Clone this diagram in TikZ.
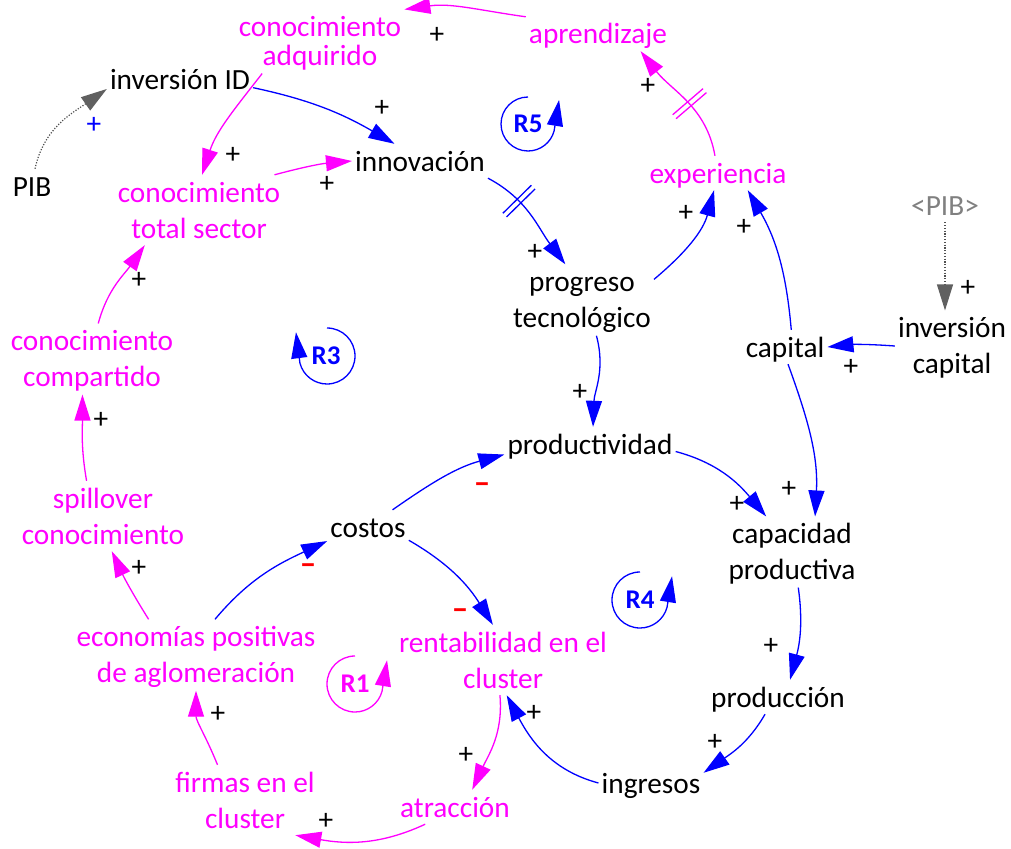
\documentclass[tikz,border=0pt]{standalone}
\usepackage{fontspec}
\setmainfont{Carlito}
\usetikzlibrary{arrows.meta,decorations.markings}
\definecolor{cmag}{RGB}{255,0,255}
\definecolor{cblue}{RGB}{0,0,255}
\definecolor{cred}{RGB}{255,0,0}
\definecolor{cdot}{RGB}{80,80,80}
\definecolor{chead}{RGB}{96,96,96}
\definecolor{cshadow}{RGB}{128,128,128}
% strut giving every text line the same height and depth
\newcommand{\lnstrut}{\rule[-4pt]{0pt}{28pt}}
\begin{document}
\begin{tikzpicture}[x=1pt,y=1pt,
  every node/.style={inner sep=3pt,font=\fontsize{29.3}{36}\selectfont},
  var/.style={align=center},
  tight/.style={font=\fontsize{29.3}{29}\selectfont},
  one/.style={text height=24pt,text depth=4pt},
  mg/.style={text=cmag},
  sign/.style={inner sep=0pt},
  neg/.style={inner sep=0pt,text=cred,font=\fontsize{33}{34}\selectfont\bfseries},
  headtip/.style={-{Triangle[length=26pt,width=16pt]}},
  linkB/.style={headtip,line width=1.3pt,color=cblue},
  linkM/.style={headtip,line width=1.3pt,color=cmag},
  linkG/.style={-{Triangle[length=26pt,width=16pt,color=chead]},line width=1.2pt,color=cdot,dash pattern=on 1.2pt off 1.6pt},
  delaymark/.style={postaction={decorate,decoration={markings,
     mark=at position #1 with {\draw[-,solid,line width=1.3pt] (-2.6,-20) -- (-2.6,20) (2.6,-20) -- (2.6,20);}}}},
  cyc/.style={headtip,line width=1.3pt},
  cyclabel/.style={inner sep=0pt,font=\fontsize{27}{30}\selectfont\bfseries}
]
\useasboundingbox (0,0) rectangle (1011,-848);

% ---------- variables ----------
\node[mg,var,tight] (cadq) at (320,-41.5) {\lnstrut conocimiento\\adquirido\lnstrut};
\node[mg,one] (aprend) at (598,-34) {aprendizaje};
\node[one] (invid) at (180,-80) {inversión ID};
\node[one] (pib) at (32,-186) {PIB};
\node[mg,var] (cts) at (199,-210) {\lnstrut conocimiento\\total sector\lnstrut};
\node[one] (innov) at (420,-161) {innovación};
\node[var] (prog) at (582,-300) {\lnstrut progreso\\tecnológico\lnstrut};
\node[mg,one] (exper) at (718,-173) {experiencia};
\node[one,text=cshadow] (pibg) at (945,-205) {<PIB>};
\node[var] (invcap) at (952,-346) {\lnstrut inversión\\capital\lnstrut};
\node[one] (capital) at (785,-347) {capital};
\node[mg,var] (ccomp) at (92,-359) {\lnstrut conocimiento\\compartido\lnstrut};
\node[mg,var] (spill) at (103,-516) {\lnstrut spillover\\conocimiento\lnstrut};
\node[one] (prodv) at (590,-444) {productividad};
\node[one] (costos) at (368,-527) {costos};
\node[var] (capprod) at (792,-552) {\lnstrut capacidad\\productiva\lnstrut};
\node[mg,var] (econ) at (196,-655) {\lnstrut economías positivas\\de aglomeración\lnstrut};
\node[mg,var] (rent) at (503,-660) {\lnstrut rentabilidad en el\\cluster\lnstrut};
\node[one] (produc) at (778,-697) {producción};
\node[mg,var] (firmas) at (245,-800) {\lnstrut firmas en el\\cluster\lnstrut};
\node[mg,one] (atrac) at (455,-807) {atracción};
\node[one] (ingr) at (651,-783) {ingresos};

% ---------- causal links ----------
\draw[linkM] (aprend.north west) to[out=172,in=8] (cadq.north east);
\draw[linkB] (invid.-6) to[out=-12,in=150] (innov.146);
\draw[linkG] (pib.80) to[out=78,in=215] (invid.-173);
\draw[linkM] (cadq.209) to[out=-128,in=72] (cts.85);
\draw[linkM] (cts.25) to[out=15,in=185] (innov.west);
\draw[linkB,delaymark=0.33] (innov.south east) to[out=-28,in=127] (prog.115);
\draw[linkM,delaymark=0.45] (exper.100) to[out=100,in=-52] (aprend.-22);
\draw[linkB] (prog.16) to[out=40,in=-105] (exper.257);
\draw[linkB] (capital.70) to[out=95,in=-60] (exper.-30);
\draw[linkG] (pibg.south) -- (pibg.south |- invcap.north);
\draw[linkB] (invcap.west) to[bend right=5] (capital.east);
\draw[linkB] (capital.-80) to[out=-70,in=87] (capprod.57);
\draw[linkM] (ccomp.80) to[out=75,in=-125] (cts.213);
\draw[linkM] (spill.115) to[out=100,in=-90] (ccomp.-105);
\draw[linkB] (prog.-68) to[out=-75,in=88] (prodv.80);
\draw[linkB] (costos.35) to[out=35,in=-165] (prodv.187);
\draw[linkB] (prodv.-5) to[out=-15,in=130] (capprod.126);
\draw[linkB] (econ.62) to[out=50,in=-155] (costos.199);
\draw[linkB] (costos.-18) to[out=-30,in=122] (rent.106);
\draw[linkM] (econ.143) to[out=122,in=-65] (spill.-76);
\draw[linkM] (rent.-95) to[out=-85,in=65] (atrac.45);
\draw[linkM] (atrac.-150) to[out=-155,in=-10] (firmas.-35);
\draw[linkM] (firmas.128) to[out=112,in=-90] (econ.south);
\draw[linkB] (capprod.-80) to[out=-82,in=75] (produc.55);
\draw[linkB] (produc.-127) to[out=-120,in=35] (ingr.11);
\draw[linkB] (ingr.west) to[out=165,in=-62] (rent.-84);

% ---------- polarities ----------
\node[sign] (s1) at (437,-35) {+};
\node[sign] (s2) at (382,-108) {+};
\node[sign,text=cblue] (s3) at (94,-125) {+};
\node[sign] (s4) at (233,-155) {+};
\node[sign] (s5) at (327,-184) {+};
\node[sign] (s6) at (535,-252) {+};
\node[sign] (s7) at (648,-86) {+};
\node[sign] (s8) at (686,-213) {+};
\node[sign] (s9) at (744,-227) {+};
\node[sign] (s10) at (968,-288) {+};
\node[sign] (s11) at (851,-367) {+};
\node[sign] (s12) at (789,-489) {+};
\node[sign] (s13) at (139,-280) {+};
\node[sign] (s14) at (101,-420) {+};
\node[sign] (s15) at (580,-392) {+};
\node[sign] (s16) at (737,-504) {+};
\node[sign] (s17) at (139,-568) {+};
\node[sign] (s18) at (466,-755) {+};
\node[sign] (s19) at (326,-821) {+};
\node[sign] (s20) at (218,-714) {+};
\node[sign] (s21) at (771,-646) {+};
\node[sign] (s22) at (715,-742) {+};
\node[sign] (s23) at (534,-713) {+};
\node[neg] (n1) at (482,-488) {–};
\node[neg] (n2) at (308,-569) {–};
\node[neg] (n3) at (460,-614) {–};

% ---------- loop markers ----------
\draw[cyc,cblue] (528,-97) arc[start angle=90,end angle=345,radius=27] -- ++(5,31);
\node[cyclabel,text=cblue] (r5) at (528,-124) {R5};
\draw[cyc,cblue] (327,-328) arc[start angle=90,end angle=-165,radius=28] -- ++(-4,31);
\node[cyclabel,text=cblue] (r3) at (326,-356) {R3};
\draw[cyc,cblue] (640,-572) arc[start angle=90,end angle=345,radius=28] -- ++(5,31);
\node[cyclabel,text=cblue] (r4) at (640,-600) {R4};
\draw[cyc,cmag] (355,-656) arc[start angle=90,end angle=345,radius=28] -- ++(5,31);
\node[cyclabel,text=cmag] (r1) at (355,-684) {R1};
\end{tikzpicture}
\end{document}
